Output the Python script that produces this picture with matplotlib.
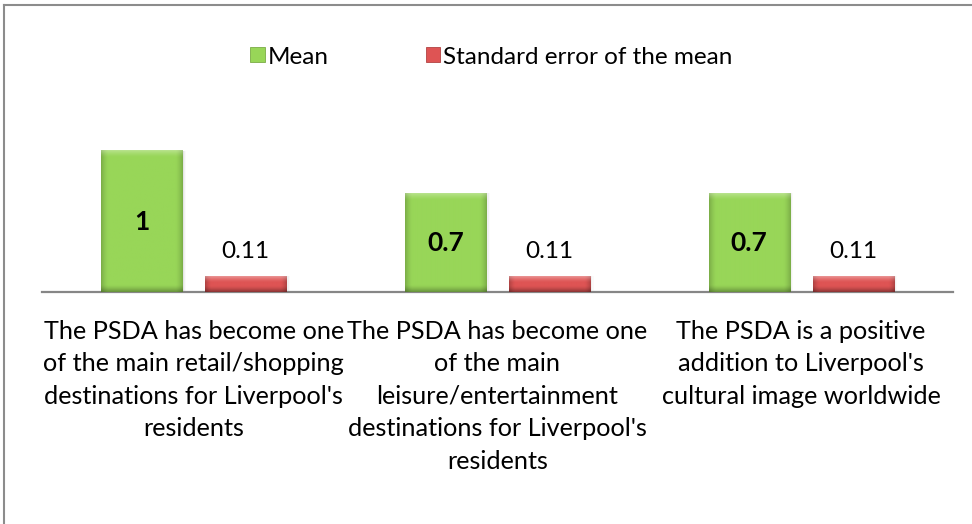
import matplotlib
matplotlib.use("Agg")
import matplotlib.pyplot as plt
import numpy as np
from matplotlib.patches import Patch
from matplotlib.lines import Line2D

# ---- data ----
categories = [
    "The PSDA has become one\nof the main retail/shopping\ndestinations for Liverpool's\nresidents",
    "The PSDA has become one\nof the main\nleisure/entertainment\ndestinations for Liverpool's\nresidents",
    "The PSDA is a positive\naddition to Liverpool's\ncultural image worldwide",
]
mean_values = [1.0, 0.7, 0.7]
sem_values = [0.11, 0.11, 0.11]
series_names = ["Mean", "Standard error of the mean"]

# ---- style ----
plt.rcParams["font.family"] = ["Lato", "DejaVu Sans"]
FS = 18.2
GREEN = np.array([152, 214, 88]) / 255
RED = np.array([222, 84, 84]) / 255
W, H, DPI = 9.72, 5.24, 100

fig = plt.figure(figsize=(W, H), dpi=DPI)
fig.patch.set_facecolor("white")
ax = fig.add_axes([42 / 972, (524 - 292) / 524, 911 / 972, 1.2 * 141 / 524])
ax.set_facecolor("none")

x = np.arange(len(categories))
offset, width = 0.171, 0.267
bars_mean = ax.bar(x - offset, mean_values, width, color=GREEN, zorder=2)
bars_sem = ax.bar(x + offset, sem_values, width, color=RED, zorder=2)

ax.set_xlim(-0.5, len(categories) - 0.5)
ax.set_ylim(0, 1.2)


def bevel_image(base, wpx, hpx, b=6, top_light=0.30, side_dark=0.18, bottom_dark=0.30):
    """Soft bevelled fill: light top edge, darker sides and bottom."""
    hpx, wpx = max(int(round(hpx)), 2), max(int(round(wpx)), 2)
    ii, jj = np.mgrid[0:hpx, 0:wpx].astype(float)
    dt, db = ii, hpx - 1 - ii
    dside = np.minimum(jj, wpx - 1 - jj)
    col = np.ones((hpx, wpx, 3)) * base
    ft = np.clip(1 - dt / b, 0, 1) ** 1.5
    fb = np.clip(1 - db / b, 0, 1) ** 1.5
    fs = np.clip(1 - dside / b, 0, 1) ** 1.5
    col = col * (1 - side_dark * fs)[..., None]
    col = col * (1 - bottom_dark * fb)[..., None]
    col = col + (1 - col) * (top_light * ft)[..., None]
    return np.clip(col, 0, 1)


fig.canvas.draw()
for bars, base, kw in ((bars_mean, GREEN, dict(b=7)),
                       (bars_sem, RED, dict(b=6, top_light=0.35, bottom_dark=0.35,
                                           side_dark=0.2))):
    for bar in bars:
        x0, y0 = bar.get_x(), bar.get_y()
        x1, y1 = x0 + bar.get_width(), y0 + bar.get_height()
        p0 = ax.transData.transform((x0, y0))
        p1 = ax.transData.transform((x1, y1))
        img = bevel_image(base, p1[0] - p0[0], p1[1] - p0[1], **kw)
        # soft drop shadow to the right
        for k, a in enumerate([0.10, 0.07, 0.04]):
            dx = (k + 1) * 1.2 / (p1[0] - p0[0]) * (x1 - x0)
            ax.bar(x0 + dx, bar.get_height(), x1 - x0, align="edge",
                   color="#808080", alpha=a, zorder=1.5, linewidth=0)
        ax.imshow(img, extent=[x0, x1, y0, y1], aspect="auto", origin="upper",
                  interpolation="bilinear", zorder=3)

ax.set_xlim(-0.5, len(categories) - 0.5)
ax.set_ylim(0, 1.2)

# value labels
for bar, v in zip(bars_mean, mean_values):
    ax.text(bar.get_x() + bar.get_width() / 2, v / 2, f"{v:g}", ha="center",
            va="center", fontsize=19, fontweight="bold", color="black", zorder=5)
for bar, v in zip(bars_sem, sem_values):
    ax.text(bar.get_x() + bar.get_width() / 2, v + 0.175, f"{v:g}", ha="center",
            va="center", fontsize=17.5, color="black", zorder=5)

# axes styling
for s in ("top", "right", "left"):
    ax.spines[s].set_visible(False)
ax.spines["bottom"].set_color("#868686")
ax.spines["bottom"].set_linewidth(1.6)
ax.set_yticks([])
ax.set_xticks(x)
ax.set_xticklabels(categories, fontsize=FS, linespacing=1.5)
ax.tick_params(axis="x", length=0, pad=20)

# legend
handles = [Patch(facecolor=GREEN, edgecolor=GREEN * 0.8, linewidth=0.6),
           Patch(facecolor=RED, edgecolor=RED * 0.8, linewidth=0.6)]
fig.legend(handles, series_names, loc="center", bbox_to_anchor=(491.5 / 972, 1 - 57 / 524),
           ncol=2, frameon=False, fontsize=17.5, handlelength=0.58, handleheight=0.58,
           handletextpad=0.13, columnspacing=4.0, borderaxespad=0)

# outer chart frame (top and left edges)
fig.add_artist(Line2D([4 / 972, 1.0], [1 - 5 / 524, 1 - 5 / 524], color="#8c8c8c", lw=1.5,
                      transform=fig.transFigure))
fig.add_artist(Line2D([4 / 972, 4 / 972], [0, 1 - 5 / 524], color="#8c8c8c", lw=1.5,
                      transform=fig.transFigure))

fig.savefig("out.png", dpi=DPI, facecolor="white")
